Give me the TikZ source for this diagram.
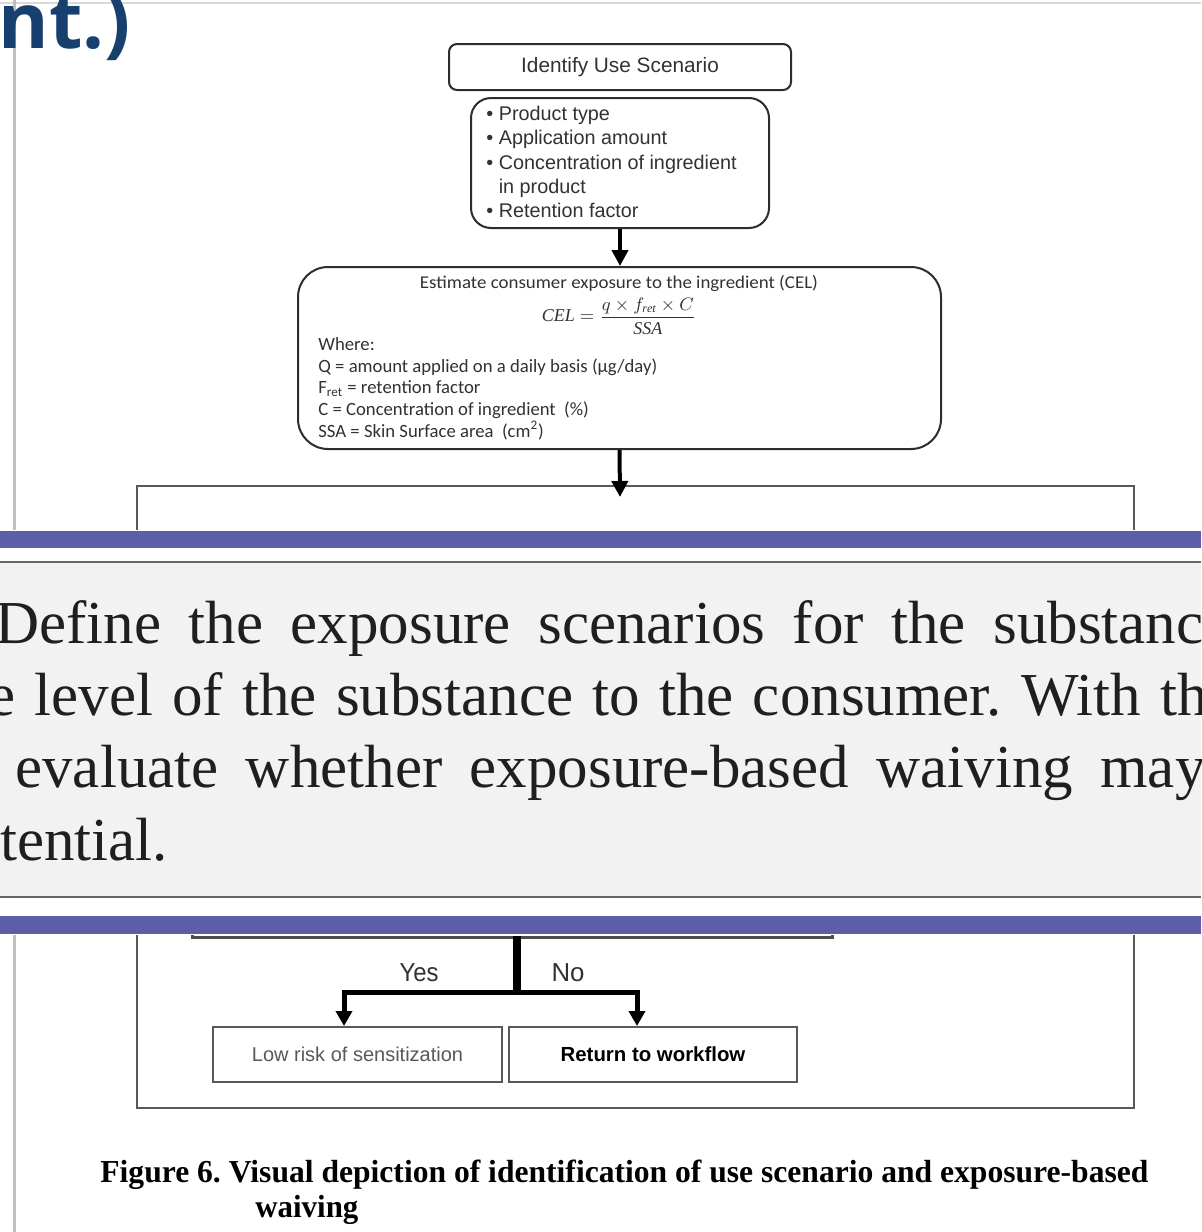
\documentclass[tikz,border=0pt]{standalone}
\usepackage{fontspec}
\usepackage{graphicx}
\usepackage{amsmath}
\setmainfont{Liberation Serif}
\newfontfamily\arialf{Liberation Sans}
\newfontfamily\calibf{Carlito}
\newfontfamily\osansf{Open Sans}
\usetikzlibrary{arrows.meta}
\definecolor{ttlblue}{RGB}{23,64,111}
\definecolor{bandblue}{RGB}{92,94,168}
\definecolor{panelgray}{RGB}{242,242,242}
\definecolor{boxline}{RGB}{45,45,45}
\definecolor{txtgray}{RGB}{50,50,50}
\newcommand\fitw[2]{\resizebox{#1}{\height}{#2}}
\newcommand\jline[2]{\hbox to #1{\spaceskip=0pt plus 1fil\relax #2}}
\frenchspacing
\begin{document}
\begin{tikzpicture}[x=0.5pt,y=-0.5pt,
  rbox/.style={draw=boxline,line width=1pt,fill=white,inner sep=0pt,text=txtgray},
  sqbox/.style={draw=black!65,line width=1pt,fill=white,inner sep=0pt},
  arr/.style={line width=2pt,-{Triangle[width=8pt,length=8pt]}},
  arrB/.style={line width=2.5pt,-{Triangle[width=8pt,length=7.5pt]}},
  lbl/.style={inner sep=0pt,text=txtgray},
  ptxt/.style={anchor=base west,inner sep=0pt,font=\fontsize{30.5}{36}\selectfont,text=black!88}]
\useasboundingbox (0,0) rectangle (1201,1232);
\fill[white] (0,0) rectangle (1201,1232);
\begin{scope}
\clip (0,0) rectangle (1201,1232);
% page edges
\draw[black!15,line width=1pt] (0,3) -- (1201,3);
\draw[black!25,line width=1.5pt] (14,0) -- (14,1232);
% heading fragment
\node[anchor=base east,inner sep=0pt,text=ttlblue,font=\osansf\bfseries\fontsize{38.5}{38}\selectfont] (head) at (131,48) {nt.)};
% top boxes
\node[rbox,rounded corners=4pt,minimum width=171pt,minimum height=23pt,font=\arialf\fontsize{10.4}{12}\selectfont] (ident) at (620,67) {\raisebox{-2pt}{Identify Use Scenario}};
\node[rbox,rounded corners=10pt,minimum width=149pt,minimum height=65pt] (bul) at (620,163) {};
\node[lbl,anchor=north west,align=left,font=\arialf\fontsize{9.9}{12.1}\selectfont] (bult) at (486,106)
  {\textbullet\ Product type\\ \textbullet\ Application amount\\ \textbullet\ Concentration of ingredient\\ \phantom{\textbullet\ }in product\\ \textbullet\ Retention factor};
\node[rbox,rounded corners=15pt,minimum width=321.5pt,minimum height=91pt] (cel) at (619.5,358) {};
\node[lbl,font=\calibf\fontsize{9}{11}\selectfont] (celt) at (619,283) {\fitw{199pt}{Estimate consumer exposure to the ingredient (CEL)}};
\node[lbl,font=\fontsize{9}{11}\selectfont] (celf) at (619,316) {$\mathit{CEL}=\dfrac{q\times f_{\mathit{ret}}\times C}{\mathit{SSA}}$};
\node[lbl,anchor=north west,align=left,font=\calibf\fontsize{9.35}{10.9}\selectfont] (where) at (318,337)
  {Where:\\ Q = amount applied on a daily basis (µg/day)\\ F\textsubscript{ret} = retention factor\\ C = Concentration of ingredient \ (\%)\\ SSA = Skin Surface area \ (cm\textsuperscript{2})};
% big frame and hidden decision box
\node[sqbox,fill=none,minimum width=498.5pt,minimum height=311pt] (big) at (635.5,797) {};
\node[draw=black!70,line width=1.5pt,minimum width=320pt,minimum height=177pt,inner sep=0pt] (dec) at (512,760) {};
% arrows
\coordinate (cel2big) at (620,497);
\draw[arr] (bul.south) -- (bul.south |- cel.north);
\draw[arr] (cel.south) -- (cel2big);
% overlay bands and text panel
\fill[white] (0,530) rectangle (1201,935);
\fill[bandblue] (0,531) rectangle (1201,548);
\fill[bandblue] (0,916) rectangle (1201,934);
\fill[panelgray] (0,562) rectangle (1201,897);
\draw[black!60,line width=1pt] (0,562) -- (1201,562);
\draw[black!60,line width=1pt] (0,897) -- (1201,897);
\node[ptxt] (p1) at (-5,643) {\jline{604pt}{Define the exposure scenarios for the substanc}};
\node[ptxt] (p2) at (-12,715) {\jline{609.5pt}{e level of the substance to the consumer. With th}};
\node[ptxt] (p3) at (15,787) {\jline{595pt}{evaluate whether exposure-based waiving may}};
\node[ptxt] (p4) at (0,860) {tential.};
% lower part
\coordinate (stemtop) at (517,936);
\coordinate (junc) at (517,992);
\node[sqbox,minimum width=144.5pt,minimum height=27.5pt,text=black!65,font=\arialf\fontsize{10}{12}\selectfont] (low) at (357.5,1054.5) {Low risk of sensitization};
\node[sqbox,minimum width=144pt,minimum height=27.5pt,font=\arialf\bfseries\fontsize{10.2}{12}\selectfont] (ret) at (653,1054.5) {Return to workflow};
\draw[line width=4pt] (stemtop) -- (junc);
\draw[arrB] (junc) -| ([xshift=-6.75pt]low.north);
\draw[arrB] (junc) -| ([xshift=-8pt]ret.north);
\node[lbl,font=\arialf\fontsize{13}{14}\selectfont] (yes) at (419,973) {\fitw{19.5pt}{Yes}};
\node[lbl,font=\arialf\fontsize{13}{14}\selectfont] (no) at (568,973) {\fitw{16.5pt}{No}};
% caption
\node[anchor=base west,inner sep=0pt,font=\bfseries\fontsize{16}{18}\selectfont] (cap1) at (100,1182) {\fitw{524pt}{Figure 6. Visual depiction of identification of use scenario and exposure-based}};
\node[anchor=base west,inner sep=0pt,font=\bfseries\fontsize{16}{18}\selectfont] (cap2) at (255,1217) {\fitw{51.5pt}{waiving}};
\end{scope}
\end{tikzpicture}
\end{document}
